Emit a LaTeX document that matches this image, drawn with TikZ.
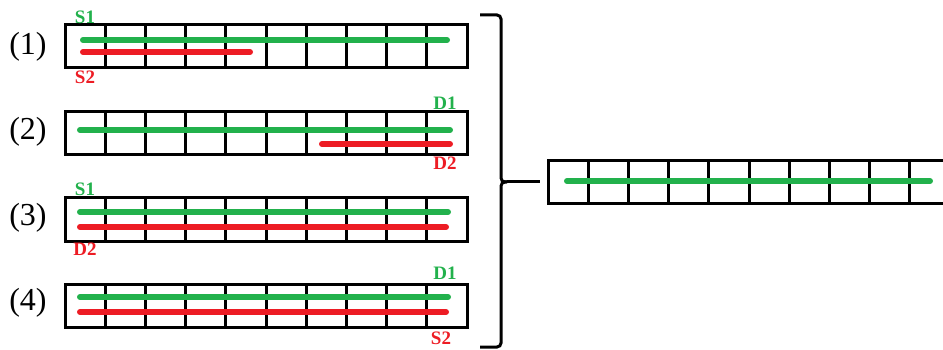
\documentclass[tikz,border=0pt]{standalone}
\usepackage{fontspec}
\setmainfont{Liberation Serif}
\usetikzlibrary{calc}
\usepackage{xcolor}
\definecolor{bitgreen}{HTML}{22B14C}
\definecolor{bitred}{HTML}{ED1C24}
\tikzstyle{regbox} = [rectangle, draw=black, line width=3pt, minimum width=402pt, minimum height=43pt,
    inner sep=0pt, outer sep=0pt]
\tikzstyle{cellline} = [line width=3pt]
\tikzstyle{gbar} = [line width=6pt, line cap=round, draw=bitgreen]
\tikzstyle{rbar} = [line width=6pt, line cap=round, draw=bitred]
\tikzstyle{caselbl} = [font=\fontsize{32}{34}\selectfont, inner sep=0pt]
\tikzstyle{glbl} = [font=\fontsize{19}{21}\selectfont\bfseries, text=bitgreen, inner sep=0pt]
\tikzstyle{rlbl} = [font=\fontsize{19}{21}\selectfont\bfseries, text=bitred, inner sep=0pt]
\tikzstyle{bracepen} = [line width=3pt, rounded corners=4pt]
\newcommand{\cells}[1]{\foreach \i in {1,...,9}
    \draw[cellline] ($(#1.north west)!\i/10!(#1.north east)$) -- ($(#1.south west)!\i/10!(#1.south east)$);}

\begin{document}
\begin{tikzpicture}[x=1pt, y=-1pt]
\useasboundingbox (0,0) rectangle (943,350);
% four cases
\node (arr1) [regbox] at (266,46.5) {};
\node (arr2) [regbox] at (266,133.5) {};
\node (arr3) [regbox] at (266,219.5) {};
\node (arr4) [regbox] at (266,305.5) {};
\cells{arr1} \cells{arr2} \cells{arr3} \cells{arr4}
\node (case1) [caselbl] at (28,47) {(1)};
\node (case2) [caselbl] at (28,132) {(2)};
\node (case3) [caselbl] at (28,218) {(3)};
\node (case4) [caselbl] at (28,303) {(4)};

\draw[gbar] (83,40) -- (447,40);
\draw[rbar] (83,52) -- (250,52);
\node (s1a) [glbl] at (85,17) {S1};
\node (s2a) [rlbl] at (85,77) {S2};

\draw[gbar] (80,130) -- (450,130);
\draw[rbar] (322,144) -- (450,144);
\node (d1b) [glbl] at (445,103) {D1};
\node (d2b) [rlbl] at (445,163) {D2};

\draw[gbar] (80,212) -- (448,212);
\draw[rbar] (80,227) -- (446,227);
\node (s1c) [glbl] at (85,189) {S1};
\node (d2c) [rlbl] at (85,249) {D2};

\draw[gbar] (80,297) -- (448,297);
\draw[rbar] (80,312) -- (446,312);
\node (d1d) [glbl] at (445,273) {D1};
\node (s2d) [rlbl] at (441,338) {S2};

% merged result
\node (arrR) [regbox] at (749,182) {};
\cells{arrR}
\draw[gbar] (567,181) -- (930,181);

% brace
\coordinate (bracetip) at (507,182);
\draw[bracepen] (480,15) -- (501,15) -- (501,182) -- (bracetip);
\draw[bracepen] (bracetip) -- (501,182) -- (501,347) -- (480,347);
\draw[line width=3pt, shorten >=8pt] (bracetip) -- (arrR.west);
\end{tikzpicture}
\end{document}
